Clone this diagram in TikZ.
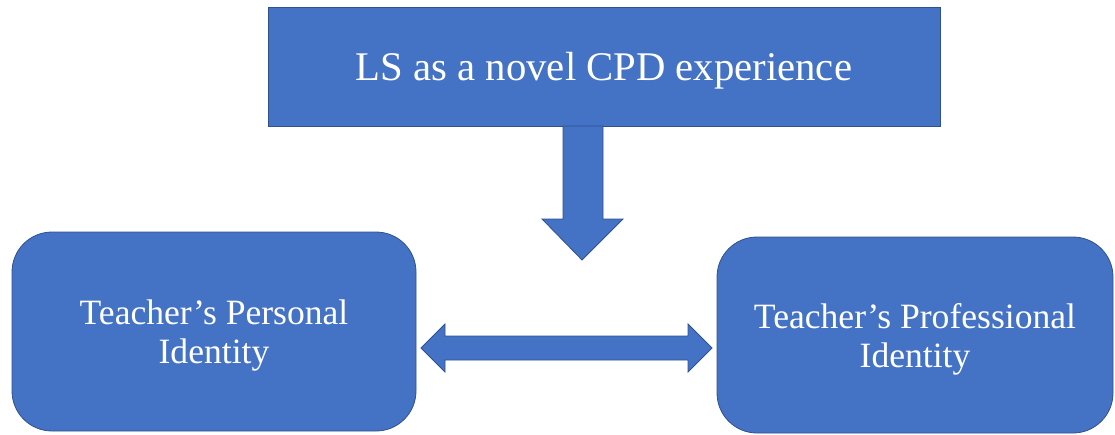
\documentclass[tikz,border=0pt]{standalone}
\usepackage{fontspec}
\setmainfont{Liberation Serif}
\definecolor{fillblue}{HTML}{4472C4}
\definecolor{edgeblue}{HTML}{2F528F}
\begin{document}
\begin{tikzpicture}[x=1pt,y=-1pt,
  blockbox/.style={draw=edgeblue, fill=fillblue, line width=0.8pt, inner sep=0pt, outer sep=0pt,
    text=white, align=center, text depth=0pt},
  topfont/.style={font=\fontsize{40.7}{44}\selectfont},
  sidefont/.style={font=\fontsize{35.6}{39}\selectfont},
  blockarrow/.style={draw=edgeblue, fill=fillblue, line width=0.8pt, line join=miter}]
\useasboundingbox (0,0) rectangle (1115,434);
\node[blockbox, topfont, minimum width=672pt, minimum height=119pt] (top) at (604,66.5) {LS as a novel CPD experience};
\node[blockbox, sidefont, rounded corners=40pt, minimum width=404pt, minimum height=199pt] (personal) at (214,331.5) {Teacher’s Personal\\Identity};
\node[blockbox, sidefont, rounded corners=40pt, minimum width=396pt, minimum height=196pt] (professional) at (915,335) {Teacher’s Professional\\Identity};
% down block arrow
\coordinate (dtip) at (582,260);
\draw[blockarrow] (563,126) -- (603,126) -- (603,219) -- (623,219) -- (dtip) -- (542,219) -- (563,219) -- cycle;
% double block arrow
\coordinate (ltip) at (421,348);
\coordinate (rtip) at (712,348);
\draw[blockarrow] (ltip) -- (445,324) -- (445,336) -- (688,336) -- (688,324) -- (rtip) -- (688,372) -- (688,360) -- (445,360) -- (445,372) -- cycle;
\end{tikzpicture}
\end{document}
